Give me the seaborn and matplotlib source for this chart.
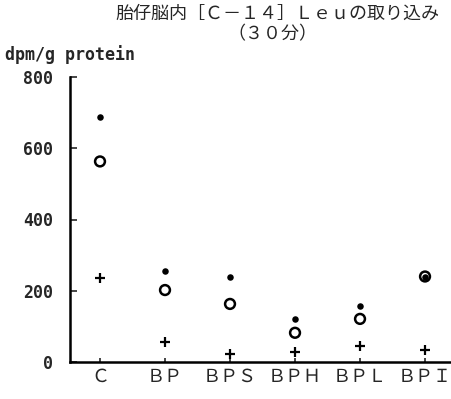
import matplotlib
matplotlib.use("Agg")
import matplotlib.pyplot as plt
import seaborn as sns
import pandas as pd

categories = ["C", "BP", "BPS", "BPH", "BPL", "BPI"]
tick_labels = ["Ｃ", "ＢＰ", "ＢＰＳ", "ＢＰＨ", "ＢＰＬ", "ＢＰＩ"]
dot_values = [688, 255, 240, 121, 158, 240]
circle_values = [563, 202, 163, 82, 121, 240]
plus_values = [236, 57, 22, 29, 45, 34]
yticks = [0, 200, 400, 600, 800]

sns.set_theme(style="ticks")
plt.rcParams["font.family"] = ["Noto Sans CJK JP", "DejaVu Sans"]

rows = []
for name, vals in [("dot", dot_values), ("circle", circle_values), ("plus", plus_values)]:
    for i, (c, v) in enumerate(zip(categories, vals)):
        rows.append({"pos": i, "cat": c, "value": v, "series": name})
df = pd.DataFrame(rows)

fig = plt.figure(figsize=(4.52, 3.99), dpi=100)
ax = fig.add_axes([70 / 452, 37 / 399, 382 / 452, 285 / 399])

sns.scatterplot(data=df[df.series == "dot"], x="pos", y="value", ax=ax,
                marker="o", s=22, color="black", edgecolor="black", linewidth=0, legend=False, zorder=3)
sns.scatterplot(data=df[df.series == "circle"], x="pos", y="value", ax=ax,
                marker="o", s=50, facecolor="none", edgecolor="black", linewidth=1.8, legend=False, zorder=2)
sns.scatterplot(data=df[df.series == "plus"], x="pos", y="value", ax=ax,
                marker="+", s=60, color="black", linewidth=1.6, legend=False, zorder=2)

ax.set_xlim(-0.4615, 5.415)
ax.set_ylim(0, 800)
ax.set_yticks(yticks)
ax.set_yticklabels([str(t) for t in yticks], family="DejaVu Sans Mono",
                   fontweight="bold", fontsize=12)
ax.set_xticks(range(len(categories)))
ax.set_xticklabels(tick_labels, fontsize=13)
ax.tick_params(axis="y", direction="in", length=5, width=1.2, pad=12)
ax.tick_params(axis="x", direction="in", length=3, width=1.2, pad=4)
ax.set_xlabel("")
ax.set_ylabel("")
sns.despine(ax=ax)
for s in ["left", "bottom"]:
    ax.spines[s].set_linewidth(1.8)
    ax.spines[s].set_color("black")

fig.text(277 / 452, 1 - 14 / 399, "胎仔脳内［Ｃ－１４］Ｌｅｕの取り込み", ha="center", va="center", fontsize=13)
fig.text(272 / 452, 1 - 34 / 399, "（３０分）", ha="center", va="center", fontsize=13)
fig.text(5 / 452, 1 - 55 / 399, "dpm/g protein", ha="left", va="center",
         family="DejaVu Sans Mono", fontweight="bold", fontsize=12)

fig.savefig("out.png", dpi=100, facecolor="white")
